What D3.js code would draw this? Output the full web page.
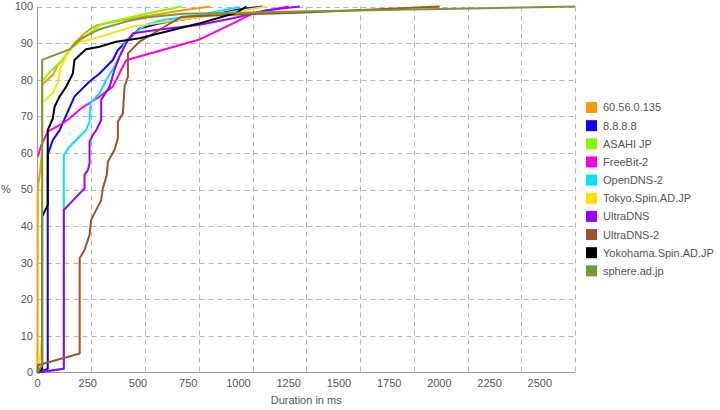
<!DOCTYPE html>
<html>
<head>
<meta charset="utf-8">
<script src="https://cdn.jsdelivr.net/npm/d3@7"></script>
<style>
  html, body { margin: 0; padding: 0; background: #fff; }
  svg { display: block; font-family: "Liberation Sans", Arial, sans-serif; }
</style>
</head>
<body>
<svg id="chart" width="720" height="410"></svg>
<script>
// ---------------- data ----------------
const categories = ["60.56.0.135", "8.8.8.8", "ASAHI JP", "FreeBit-2", "OpenDNS-2",
  "Tokyo.Spin.AD.JP", "UltraDNS", "UltraDNS-2", "Yokohama.Spin.AD.JP", "sphere.ad.jp"];

const colors = ["#ff9900", "#1100ff", "#80ff00", "#ff00dd", "#00e5ff",
  "#ffe000", "#9900ff", "#a0522d", "#000000", "#779933"];

// [duration ms, cumulative %]
const s_60_56_0_135 = [[0,0],[1,50],[13,55],[22,60],[23,78.6],[76,81.3],[101,84],[126,85.5],[159,88],[184,90],[230,92.5],[267,94],[292,94.8],[360,95.6],[524,97.2],[724,99],[860,100]];
const s_8_8_8_8 = [[0,0],[51,1],[51,59.5],[76,63.5],[110,66.2],[184,75.4],[259,79.5],[309,81.7],[375,85.4],[400,88.1],[442,90.4],[508,94],[608,95.4],[807,97.2],[900,98],[1000,99.2],[1120,100]];
const s_asahi = [[0,0],[23,1],[23,79.5],[60,82],[126,85.5],[159,88],[209,90.5],[267,93.1],[317,95.2],[541,98],[716,100]];
const s_freebit2 = [[2,59],[18,62],[51,65.8],[126,68.1],[159,69.4],[218,72.2],[309,75.4],[375,78.1],[425,83.6],[442,85.4],[458,85.6],[807,91],[940,94.5],[1073,98.1],[1150,99],[1250,100]];
const s_opendns2 = [[0,0],[131,1],[131,59.4],[159,61.7],[201,64],[242,66.3],[259,68.5],[264,73.6],[309,76.3],[342,79.9],[383,83.6],[425,88.1],[433,90.4],[491,93.1],[541,95],[624,96.3],[807,97.7],[1006,99.9]];
const s_tokyo = [[0,0],[15,5],[23,10],[23,73.6],[76,76.3],[106,79.9],[110,82.7],[134,85.4],[159,88.1],[209,90.2],[309,91.7],[475,94.5],[641,95.8],[850,97.5],[1000,98.8],[1140,100]];
const s_ultradns = [[0,0],[131,1],[131,44.4],[234,50.3],[234,54],[251,55.3],[259,57.2],[259,63],[276,64.9],[292,66.2],[317,69],[317,74.5],[359,78.1],[383,82.7],[408,86.3],[442,90],[475,92.7],[591,93.6],[807,95],[973,96.8],[1139,99],[1305,100]];
const s_ultradns2 = [[0,0],[2,2],[210,5.2],[210,31.2],[234,33.5],[259,37.6],[267,41.7],[317,47.1],[325,50.3],[345,54],[350,57.6],[383,60.8],[400,64],[400,68.5],[425,70.8],[433,78.1],[450,80.8],[450,87.2],[508,90.4],[591,93.1],[716,97.2],[1000,97.8],[1305,98.3],[2002,100]];
const s_yokohama = [[0,0],[23,1],[23,42.6],[51,45.8],[51,66.2],[76,69.4],[85,72.6],[110,75.4],[143,78.1],[176,81.7],[184,85.4],[209,86.7],[242,88.3],[309,89],[392,90.4],[508,91.3],[807,95.4],[990,98.3],[1039,100]];
const s_sphere = [[0,0],[23,2],[23,85.4],[159,88.3],[218,91.3],[309,93.8],[450,96],[541,97],[724,98],[1100,98.4],[1300,98.6],[2675,100]];

const seriesValues = [s_60_56_0_135, s_8_8_8_8, s_asahi, s_freebit2, s_opendns2,
  s_tokyo, s_ultradns, s_ultradns2, s_yokohama, s_sphere];

const xTickLabels = [0, 250, 500, 750, 1000, 1250, 1500, 1750, 2000, 2250, 2500];
const yTickLabels = [0, 10, 20, 30, 40, 50, 60, 70, 80, 90, 100];
const xMax = 2675;

// ---------------- drawing ----------------
const svg = d3.select("#chart");
const pLeft = 37.5, pRight = 575, pTop = 6.5, pBottom = 372.5;

const x = d3.scaleLinear().domain([0, xMax]).range([pLeft, pRight]);
const y = d3.scaleLinear().domain([0, 100]).range([pBottom, pTop]);

const gridColor = "#b4b4b4";
const textColor = "#555";

// vertical grid: 10 equal divisions of the plot
const g = svg.append("g");
d3.range(1, 11).forEach(i => {
  const xv = Math.round(x(i * xMax / 10)) + 0.5;
  g.append("line").attr("x1", xv).attr("x2", xv).attr("y1", pTop).attr("y2", pBottom)
    .attr("stroke", gridColor).attr("stroke-dasharray", "5,4");
});
// horizontal grid
yTickLabels.slice(1).forEach(v => {
  const yv = Math.round(y(v)) + 0.5;
  g.append("line").attr("x1", pLeft).attr("x2", pRight).attr("y1", yv).attr("y2", yv)
    .attr("stroke", gridColor).attr("stroke-dasharray", "5,4");
});

// axes lines
svg.append("line").attr("x1", pLeft).attr("x2", pLeft).attr("y1", pTop).attr("y2", pBottom)
  .attr("stroke", "#999");
svg.append("line").attr("x1", pLeft).attr("x2", pRight + 0.5).attr("y1", pBottom).attr("y2", pBottom)
  .attr("stroke", "#999");

// y tick labels
svg.append("g").selectAll("text").data(yTickLabels).join("text")
  .attr("x", 33).attr("y", d => y(d)).attr("dy", "0.36em")
  .attr("text-anchor", "end").attr("font-size", 11).attr("fill", textColor)
  .text(d => d);

// x tick labels
svg.append("g").selectAll("text").data(xTickLabels).join("text")
  .attr("x", d => x(d)).attr("y", 387)
  .attr("text-anchor", "middle").attr("font-size", 11).attr("fill", textColor)
  .text(d => d);

// axis titles
svg.append("text").attr("x", 6).attr("y", y(50)).attr("dy", "0.36em")
  .attr("text-anchor", "middle").attr("font-size", 11).attr("fill", textColor).text("%");
svg.append("text").attr("x", (pLeft + pRight) / 2).attr("y", 404)
  .attr("text-anchor", "middle").attr("font-size", 11).attr("fill", textColor).text("Duration in ms");

// lines
const line = d3.line().x(d => x(d[0])).y(d => y(d[1]));
const lg = svg.append("g").attr("fill", "none").attr("stroke-width", 2)
  .attr("stroke-linejoin", "round");
seriesValues.forEach((s, i) => {
  lg.append("path").attr("d", line(s)).attr("stroke", colors[i]);
});

// legend
const leg = svg.append("g");
categories.forEach((c, i) => {
  const ry = 102 + i * 18.15;
  leg.append("rect").attr("x", 586).attr("y", ry).attr("width", 11).attr("height", 11)
    .attr("fill", colors[i]);
  leg.append("text").attr("x", 603).attr("y", ry + 5.5).attr("dy", "0.36em")
    .attr("font-size", 11).attr("fill", textColor).text(c);
});
</script>
</body>
</html>
